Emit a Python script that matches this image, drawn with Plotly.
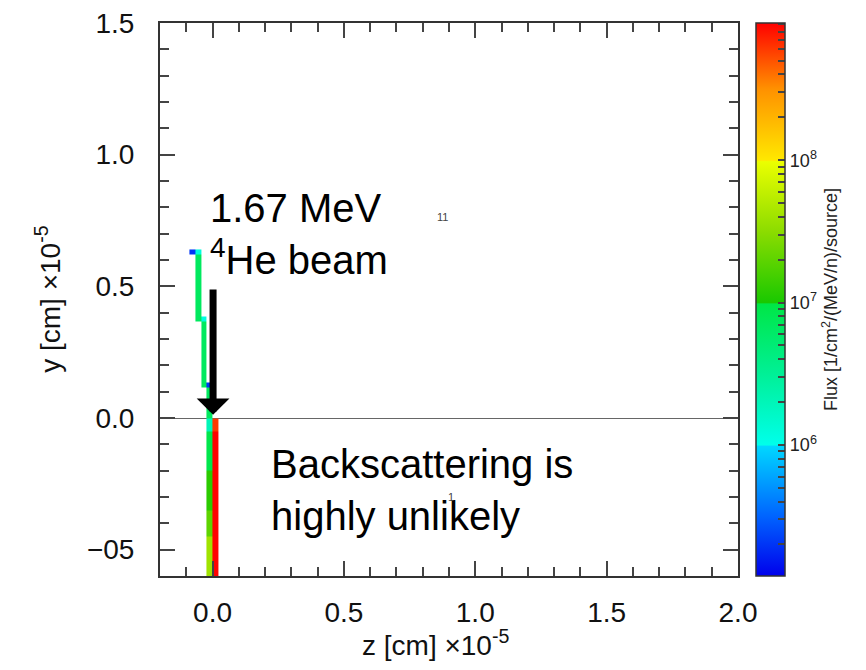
import numpy as np
import plotly.graph_objects as go

# ---------------- data ----------------
# mesh bin edges (z [cm] x1e-5 and y [cm] x1e-5)
col_edges = [-0.088, -0.066, -0.044, -0.022, 0.0, 0.022]
row_edges = [-0.6, -0.45, -0.35, -0.2, -0.05, 0.0, 0.115, 0.134, 0.365, 0.385, 0.62, 0.64]

# non-empty cells: column index, row index, flux [1/cm^2/(MeV/n)/source]
cell_col = [0, 1, 1, 1, 2, 2, 2, 3, 3, 3, 3, 3, 3, 3, 4, 4, 4, 4, 4]
cell_row = [10, 10, 9, 8, 8, 7, 6, 6, 5, 4, 3, 2, 1, 0, 4, 3, 2, 1, 0]
cell_flux = [2.0e5, 1.2e6, 7.0e6, 7.0e6, 1.2e6, 7.0e6, 7.0e6, 2.0e5, 7.0e6, 2.0e6,
             9.0e6, 1.2e7, 2.0e7, 4.0e7, 6.0e8, 9.0e8, 9.0e8, 9.0e8, 9.0e8]

# colour range (log10 flux)
flux_min = 1.2e5
flux_max = 9.2e8

x_tick_vals = [0.0, 0.5, 1.0, 1.5, 2.0]
x_tick_text = ["0.0", "0.5", "1.0", "1.5", "2.0"]
y_tick_vals = [-0.5, 0.0, 0.5, 1.0, 1.5]
y_tick_text = ["\u221205", "0.0", "0.5", "1.0", "1.5"]
cbar_decades = [6, 7, 8]

region_labels = ["11", "1"]
region_x = [0.877, 0.908]
region_y = [0.763, -0.30]

# ---------------- build ----------------
nrows = len(row_edges) - 1
ncols = len(col_edges) - 1
z = np.full((nrows, ncols), np.nan)
for c, r, f in zip(cell_col, cell_row, cell_flux):
    z[r, c] = np.log10(f)

zmin = np.log10(flux_min)
zmax = np.log10(flux_max)


def frac(L):
    return float(np.clip((L - zmin) / (zmax - zmin), 0, 1))


colorscale = [
    [0.0, "rgb(0,0,235)"],
    [frac(5.5), "rgb(0,100,255)"],
    [frac(5.99), "rgb(0,215,255)"],
    [frac(6.0), "rgb(0,255,235)"],
    [frac(6.5), "rgb(0,240,150)"],
    [frac(6.99), "rgb(0,230,70)"],
    [frac(7.0), "rgb(25,200,0)"],
    [frac(7.5), "rgb(140,220,0)"],
    [frac(7.99), "rgb(235,255,0)"],
    [frac(8.0), "rgb(255,232,0)"],
    [frac(8.5), "rgb(255,145,0)"],
    [1.0, "rgb(255,0,0)"],
]

# colorbar ticks: majors labelled, minors (2..9) blank
cb_vals, cb_text = [], []
for d in range(4, 10):
    for m in range(1, 10):
        v = d + np.log10(m)
        if zmin <= v <= zmax:
            cb_vals.append(v)
            cb_text.append(f"10<sup>{d}</sup>" if (m == 1 and d in cbar_decades) else "")

FONT = "Liberation Sans, Arial, sans-serif"

fig = go.Figure()
fig.add_trace(go.Heatmap(
    x=col_edges, y=row_edges, z=z,
    zmin=zmin, zmax=zmax, colorscale=colorscale,
    zsmooth=False, hoverongaps=False, showscale=True,
    colorbar=dict(
        x=1.031, xanchor="left", xpad=0, ypad=0,
        y=0.5, yanchor="middle", len=1.0, lenmode="fraction",
        thickness=29, outlinewidth=1.5, outlinecolor="#333",
        tickmode="array", tickvals=cb_vals, ticktext=cb_text,
        ticks="inside", ticklen=7, tickwidth=1.5, tickcolor="#444",
        tickfont=dict(family=FONT, size=18, color="#222"),
        title=dict(text="Flux [1/cm<sup>2</sup>/(MeV/n)/source]", side="right",
                   font=dict(family=FONT, size=18, color="#222")),
    ),
))

axis_common = dict(
    showline=True, linecolor="#333", linewidth=2, mirror="allticks",
    showgrid=False, ticks="inside", ticklen=15, tickwidth=1.5, tickcolor="#444",
    automargin=False, ticklabeloverflow="allow",
    tickfont=dict(family=FONT, size=28, color="#111"),
    minor=dict(ticks="inside", ticklen=9, tickwidth=1.5, tickcolor="#444", dtick=0.1, showgrid=False),
)

# page body adds an 8 px offset; figure sized so the plot area lands where the reference has it
fig.update_layout(
    width=858, height=662,
    margin=dict(l=152, r=128, t=15, b=94, autoexpand=False),
    paper_bgcolor="white", plot_bgcolor="white",
    showlegend=False,
    xaxis=dict(range=[-0.2, 2.0], tickmode="array", tickvals=x_tick_vals, ticktext=x_tick_text,
               zeroline=False, ticklabelstandoff=10, **axis_common),
    yaxis=dict(range=[-0.6, 1.5], tickmode="array", tickvals=y_tick_vals, ticktext=y_tick_text,
               zeroline=True, zerolinecolor="#666", zerolinewidth=1.2, ticklabelstandoff=18,
               **axis_common),
)

annotations = [
    # axis titles
    dict(text="z [cm] \u00d710<sup>-5</sup>", xref="paper", yref="paper", x=0.4775, y=-0.121,
         xanchor="center", yanchor="middle", showarrow=False,
         font=dict(family=FONT, size=28, color="#111")),
    dict(text="y [cm] \u00d710<sup>-5</sup>", xref="paper", yref="paper", x=-0.195, y=0.5,
         xanchor="center", yanchor="middle", textangle=-90, showarrow=False,
         font=dict(family=FONT, size=28, color="#111")),
    # beam arrow
    dict(text="", x=0.002, y=0.012, ax=0.002, ay=0.494, xref="x", yref="y", axref="x", ayref="y",
         showarrow=True, arrowhead=1, arrowwidth=7, arrowsize=0.78, arrowcolor="black"),
    # labels
    dict(text="1.67 MeV<br><sup>4</sup>He beam", x=-0.017, y=0.889, xref="x", yref="y",
         xanchor="left", yanchor="top", align="left", showarrow=False,
         font=dict(family=FONT, size=40, color="black")),
    dict(text="Backscattering is<br>highly unlikely", x=0.213, y=-0.084, xref="x", yref="y",
         xanchor="left", yanchor="top", align="left", showarrow=False,
         font=dict(family=FONT, size=40, color="black")),
]
for t, xx, yy in zip(region_labels, region_x, region_y):
    annotations.append(dict(text=t, x=xx, y=yy, xref="x", yref="y", showarrow=False,
                            font=dict(family=FONT, size=11, color="#444")))
fig.update_layout(annotations=annotations)

fig.write_html("out.html")
